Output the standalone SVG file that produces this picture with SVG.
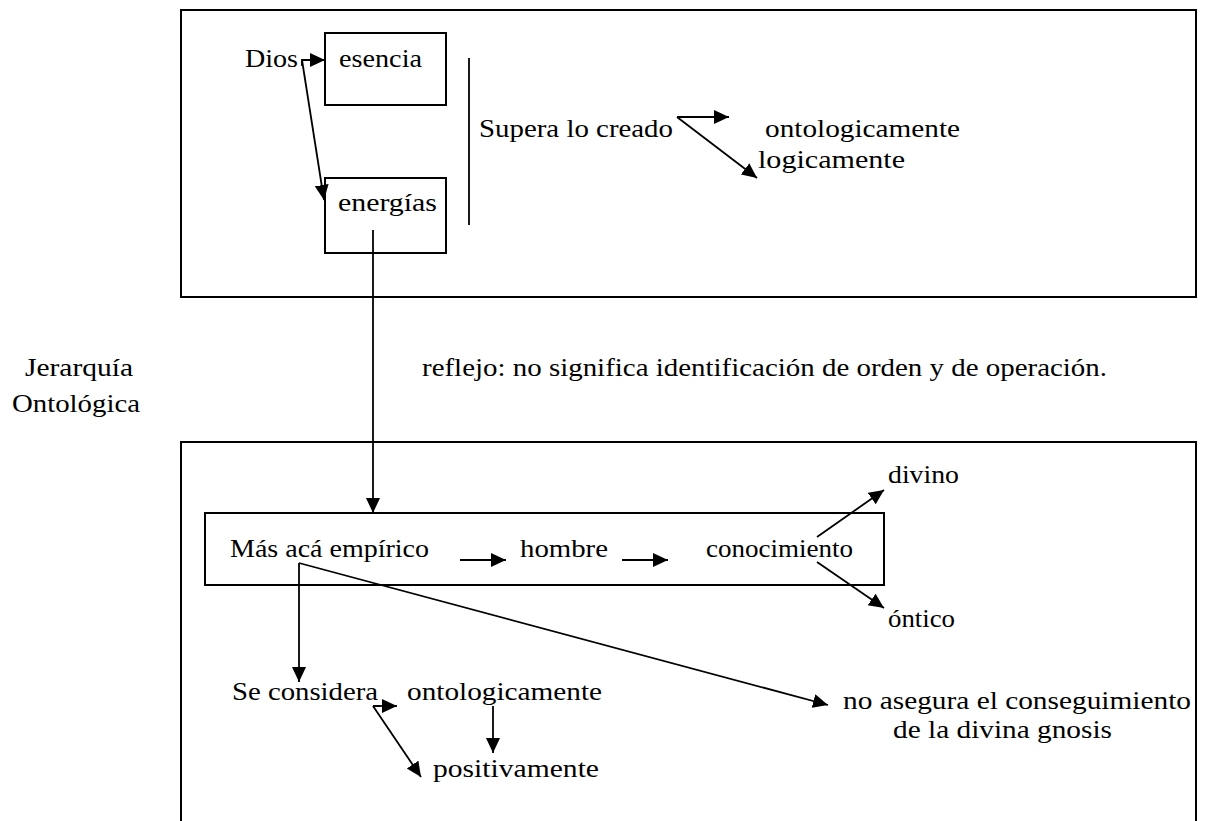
<svg xmlns="http://www.w3.org/2000/svg" width="1215" height="821" viewBox="0 0 1215 821">
<defs>
<marker id="ah" markerUnits="userSpaceOnUse" markerWidth="17" markerHeight="15" refX="15" refY="7" orient="auto">
<path d="M0,0 L15,7 L0,14 z" fill="#000"/>
</marker>
<style>
.t{font-family:"Liberation Serif","Times New Roman",serif;font-size:26px;fill:#000}
.box{fill:none;stroke:#000;stroke-width:2}
.ln{fill:none;stroke:#000;stroke-width:1.8}
.ar{fill:none;stroke:#000;stroke-width:1.8;marker-end:url(#ah)}
</style>
</defs>
<rect width="1215" height="821" fill="#fff"/>
<g id="frame-top"><rect class="box" x="181" y="10" width="1015" height="287"/></g>
<g id="frame-bottom"><rect class="box" x="181" y="442" width="1015" height="420"/></g>
<g id="dios"><text class="t" x="245" y="67" textLength="53" lengthAdjust="spacingAndGlyphs">Dios</text></g>
<g id="esencia"><rect class="box" x="325" y="33" width="121" height="72"/><text class="t" x="339" y="67" textLength="83" lengthAdjust="spacingAndGlyphs">esencia</text></g>
<g id="energias"><rect class="box" x="325" y="178" width="121" height="75"/><text class="t" x="338" y="211" textLength="99" lengthAdjust="spacingAndGlyphs">energías</text></g>
<g id="supera"><text class="t" x="479" y="137" textLength="194" lengthAdjust="spacingAndGlyphs">Supera lo creado</text></g>
<g id="ontologicamente-top"><text class="t" x="765" y="137" textLength="195" lengthAdjust="spacingAndGlyphs">ontologicamente</text></g>
<g id="logicamente"><text class="t" x="758" y="168" textLength="147" lengthAdjust="spacingAndGlyphs">logicamente</text></g>
<g id="jerarquia"><text class="t" x="25" y="376" textLength="108" lengthAdjust="spacingAndGlyphs">Jerarquía</text><text class="t" x="12" y="412" textLength="128" lengthAdjust="spacingAndGlyphs">Ontológica</text></g>
<g id="reflejo"><text class="t" x="422" y="376" textLength="685" lengthAdjust="spacingAndGlyphs">reflejo: no significa identificación de orden y de operación.</text></g>
<g id="mas-aca"><rect class="box" x="205" y="513" width="679" height="72"/>
<text class="t" x="230" y="557" textLength="199" lengthAdjust="spacingAndGlyphs">Más acá empírico</text></g>
<g id="hombre"><text class="t" x="520" y="557" textLength="88" lengthAdjust="spacingAndGlyphs">hombre</text></g>
<g id="conocimiento"><text class="t" x="706" y="557" textLength="147" lengthAdjust="spacingAndGlyphs">conocimiento</text></g>
<g id="divino"><text class="t" x="888" y="483" textLength="71" lengthAdjust="spacingAndGlyphs">divino</text></g>
<g id="ontico"><text class="t" x="888" y="627" textLength="67" lengthAdjust="spacingAndGlyphs">óntico</text></g>
<g id="se-considera"><text class="t" x="232" y="700" textLength="146" lengthAdjust="spacingAndGlyphs">Se considera</text></g>
<g id="ontologicamente-bottom"><text class="t" x="407" y="700" textLength="195" lengthAdjust="spacingAndGlyphs">ontologicamente</text></g>
<g id="positivamente"><text class="t" x="433" y="777" textLength="166" lengthAdjust="spacingAndGlyphs">positivamente</text></g>
<g id="no-asegura"><text class="t" x="843" y="709" textLength="348" lengthAdjust="spacingAndGlyphs">no asegura el conseguimiento</text><text class="t" x="893" y="738" textLength="219" lengthAdjust="spacingAndGlyphs">de la divina gnosis</text></g>
<g id="connectors">
<polyline class="ln" points="302,66 302,60 310,60"/>
<line class="ar" x1="302" y1="60" x2="325" y2="60"/>
<line class="ar" x1="302" y1="60" x2="324" y2="200"/>
<line class="ln" x1="469" y1="58" x2="469" y2="225"/>
<line class="ar" x1="677" y1="117" x2="729" y2="117"/>
<line class="ar" x1="677" y1="117" x2="757" y2="178"/>
<line class="ar" x1="373" y1="230" x2="373" y2="513"/>
<line class="ar" x1="460" y1="560" x2="506" y2="560"/>
<line class="ar" x1="622" y1="560" x2="668" y2="560"/>
<line class="ar" x1="817" y1="537" x2="884" y2="490"/>
<line class="ar" x1="817" y1="562" x2="884" y2="608"/>
<line class="ar" x1="299" y1="563" x2="299" y2="682"/>
<line class="ar" x1="299" y1="563" x2="828" y2="705"/>
<line class="ln" x1="373" y1="706" x2="380" y2="706"/>
<line class="ar" x1="373" y1="706" x2="397" y2="706"/>
<line class="ar" x1="373" y1="706" x2="421" y2="777"/>
<line class="ar" x1="493" y1="706" x2="493" y2="753"/>
</g>
</svg>
